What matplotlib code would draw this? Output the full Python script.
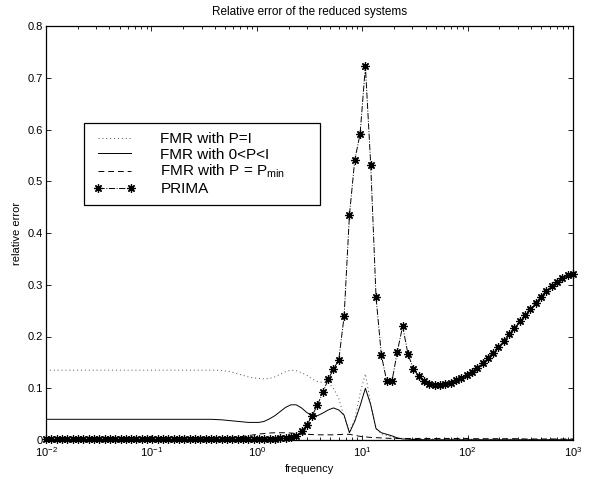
import numpy as np
import matplotlib
matplotlib.use("Agg")
import matplotlib.pyplot as plt
from matplotlib.ticker import FixedLocator, FixedFormatter, LogLocator, NullFormatter

plt.rcParams['font.family'] = ['Liberation Sans', 'DejaVu Sans']
plt.rcParams['mathtext.fontset'] = 'custom'
plt.rcParams['mathtext.rm'] = 'Liberation Sans'
plt.rcParams['mathtext.it'] = 'Liberation Sans:italic'

# frequency grid (100 log-spaced points, 1e-2 .. 1e3)
freq = np.logspace(-2, 3, 100)

# FMR with P=I  (dotted)
err_fmr_identity = [
    0.135, 0.135, 0.135, 0.135, 0.135, 0.135, 0.135, 0.135, 0.135, 0.135,
    0.135, 0.135, 0.135, 0.135, 0.135, 0.135, 0.135, 0.135, 0.135, 0.135,
    0.135, 0.135, 0.135, 0.135, 0.135, 0.135, 0.135, 0.135, 0.135, 0.135,
    0.135, 0.135, 0.135, 0.134, 0.133, 0.131, 0.128, 0.125, 0.122, 0.120,
    0.119, 0.118, 0.119, 0.122, 0.127, 0.132, 0.135, 0.134, 0.130, 0.125,
    0.118, 0.113, 0.111, 0.112, 0.100, 0.080, 0.045, 0.016, 0.040, 0.090,
    0.128, 0.070, 0.022, 0.012, 0.009, 0.006, 0.004, 0.003, 0.0025, 0.002,
    0.002, 0.002, 0.002, 0.002, 0.002, 0.002, 0.002, 0.002, 0.002, 0.002,
    0.0015, 0.0015, 0.0015, 0.0015, 0.0015, 0.0015, 0.0015, 0.0015, 0.0015, 0.0015,
    0.001, 0.001, 0.001, 0.001, 0.001, 0.001, 0.001, 0.001, 0.001, 0.001,
]

# FMR with 0<P<I  (solid)
err_fmr_partial = [
    0.040, 0.040, 0.040, 0.040, 0.040, 0.040, 0.040, 0.040, 0.040, 0.040,
    0.040, 0.040, 0.040, 0.040, 0.040, 0.040, 0.040, 0.040, 0.040, 0.040,
    0.040, 0.040, 0.040, 0.040, 0.040, 0.040, 0.040, 0.040, 0.040, 0.040,
    0.040, 0.040, 0.0395, 0.039, 0.038, 0.037, 0.036, 0.035, 0.034, 0.034,
    0.034, 0.036, 0.041, 0.047, 0.055, 0.063, 0.068, 0.068, 0.062, 0.053,
    0.047, 0.047, 0.052, 0.058, 0.062, 0.058, 0.048, 0.014, 0.036, 0.066,
    0.100, 0.068, 0.022, 0.014, 0.011, 0.008, 0.004, 0.002, 0.0015, 0.001,
    0.0008, 0.0006, 0.0005, 0.0005, 0.0005, 0.0005, 0.0005, 0.0005, 0.0005, 0.0005,
    0.0005, 0.0005, 0.0005, 0.0005, 0.0005, 0.0005, 0.0005, 0.0005, 0.0005, 0.0005,
    0.0005, 0.0005, 0.0005, 0.0005, 0.0005, 0.0005, 0.0005, 0.0005, 0.0005, 0.0005,
]

# FMR with P = Pmin  (dashed)
err_fmr_pmin = [
    0.001, 0.001, 0.001, 0.001, 0.001, 0.001, 0.001, 0.001, 0.001, 0.001,
    0.001, 0.001, 0.001, 0.001, 0.001, 0.001, 0.001, 0.001, 0.001, 0.001,
    0.001, 0.001, 0.001, 0.001, 0.001, 0.0012, 0.0014, 0.0016, 0.0018, 0.002,
    0.0023, 0.0026, 0.003, 0.0035, 0.0042, 0.005, 0.006, 0.007, 0.0085, 0.010,
    0.0115, 0.0125, 0.0135, 0.014, 0.014, 0.014, 0.0135, 0.0125, 0.0115, 0.011,
    0.0105, 0.010, 0.010, 0.010, 0.010, 0.0105, 0.011, 0.011, 0.009, 0.007,
    0.006, 0.005, 0.0045, 0.004, 0.0035, 0.003, 0.003, 0.003, 0.003, 0.003,
    0.003, 0.003, 0.003, 0.003, 0.003, 0.003, 0.003, 0.003, 0.003, 0.003,
    0.0025, 0.0025, 0.0025, 0.0025, 0.0025, 0.0025, 0.0025, 0.0025, 0.0025, 0.0025,
    0.002, 0.002, 0.002, 0.002, 0.002, 0.002, 0.002, 0.002, 0.002, 0.002,
]

# PRIMA  (dash-dot with asterisks)
err_prima = [
    0.001, 0.001, 0.001, 0.001, 0.001, 0.001, 0.001, 0.001, 0.001, 0.001,
    0.001, 0.001, 0.001, 0.001, 0.001, 0.001, 0.001, 0.001, 0.001, 0.001,
    0.001, 0.001, 0.001, 0.001, 0.001, 0.001, 0.001, 0.001, 0.001, 0.001,
    0.001, 0.001, 0.001, 0.001, 0.001, 0.001, 0.001, 0.0012, 0.0013, 0.0014,
    0.0015, 0.002, 0.002, 0.0025, 0.003, 0.004, 0.005, 0.0077, 0.017, 0.029,
    0.047, 0.068, 0.092, 0.117, 0.137, 0.155, 0.239, 0.434, 0.541, 0.591,
    0.722, 0.532, 0.276, 0.164, 0.114, 0.114, 0.171, 0.220, 0.166, 0.138,
    0.123, 0.114, 0.109, 0.107, 0.1066, 0.108, 0.111, 0.1156, 0.120, 0.125,
    0.1316, 0.140, 0.149, 0.159, 0.169, 0.180, 0.191, 0.204, 0.216, 0.229,
    0.242, 0.253, 0.265, 0.277, 0.288, 0.297, 0.305, 0.3135, 0.318, 0.321,
]

y_ticks = [0, 0.1, 0.2, 0.3, 0.4, 0.5, 0.6, 0.7, 0.8]
y_ticklabels = ['0', '0.1', '0.2', '0.3', '0.4', '0.5', '0.6', '0.7', '0.8']

fig = plt.figure(figsize=(5.95, 4.79), dpi=100)
ax = fig.add_axes([46 / 595, 39 / 479, 527 / 595, 414 / 479])

lw = 0.7
ax.plot(freq, err_fmr_identity, color='0.3', linestyle=(0, (1, 3)), linewidth=lw, label='FMR with P=I')
ax.plot(freq, err_fmr_partial, color='k', linestyle='-', linewidth=lw, label='FMR with 0<P<I')
ax.plot(freq, err_fmr_pmin, color='k', linestyle=(0, (6, 4)), linewidth=lw,
        label='FMR with P = P$_\\mathregular{min}$')
ax.plot(freq, err_prima, color='k', linestyle='-.', linewidth=lw, marker=(8, 2, 0),
        markersize=6, markeredgewidth=0.9, label='PRIMA', clip_on=False)

ax.set_xscale('log')
ax.set_xlim(1e-2, 1e3)
ax.set_ylim(0, 0.8)
ax.yaxis.set_major_locator(FixedLocator(y_ticks))
ax.yaxis.set_major_formatter(FixedFormatter(y_ticklabels))
ax.xaxis.set_major_locator(LogLocator(base=10, numticks=10))
ax.xaxis.set_minor_locator(LogLocator(base=10, subs=np.arange(2, 10), numticks=10))
ax.xaxis.set_minor_formatter(NullFormatter())

ax.tick_params(which='both', direction='in', top=True, right=True, labelsize=8, width=0.6)
ax.tick_params(which='major', length=3.5)
ax.tick_params(axis='y', which='major', pad=2.5)
ax.tick_params(axis='x', which='major', pad=4)
ax.tick_params(which='minor', length=2)
for s in ax.spines.values():
    s.set_linewidth(0.9)

ax.set_title('Relative error of the reduced systems', fontsize=8.5, pad=8)
ax.set_xlabel('frequency', fontsize=8, labelpad=3)
ax.set_ylabel('relative error', fontsize=8, labelpad=4)

leg = ax.legend(loc='upper left', bbox_to_anchor=(0.072, 0.57, 0.448, 0.196), mode='expand',
                fontsize=11, numpoints=2, handlelength=2.75, handletextpad=1.65,
                labelspacing=0.1, borderpad=0.6, borderaxespad=0,
                fancybox=False, framealpha=1, edgecolor='k')
leg.get_frame().set_linewidth(0.9)

fig.savefig('out.png', dpi=100)
